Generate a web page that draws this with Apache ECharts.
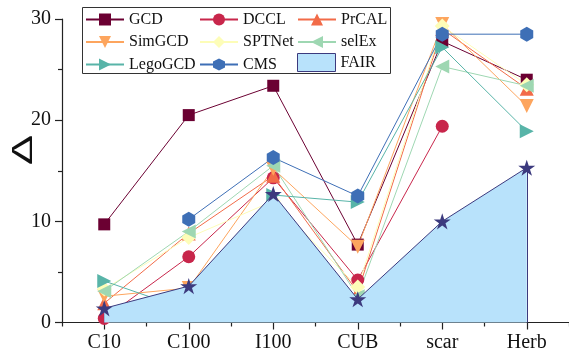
<!DOCTYPE html>
<html>
<head>
<meta charset="utf-8">
<script src="https://cdn.jsdelivr.net/npm/echarts@6/dist/echarts.min.js"></script>
<style>html,body{margin:0;padding:0;background:#fff}#c{width:569px;height:356px}</style>
</head>
<body>
<div id="c"></div>
<script>
const categories = ['C10', 'C100', 'I100', 'CUB', 'scar', 'Herb'];
const yTicks = [0, 10, 20, 30];
const GCD     = [9.7, 20.5, 23.4, 7.7, 27.8, 24.0];
const DCCL    = [0.4, 6.5, 14.3, 4.2, 19.4, null];
const PrCAL   = [1.9, 8.8, 14.5, 3.0, 29.0, 23.1];
const SimGCD  = [2.6, 3.4, 15.2, 7.5, 29.5, 21.4];
const SPTNet  = [3.3, 8.4, 12.0, 3.5, 29.3, 23.5];
const selEx   = [3.1, 9.0, 15.5, 2.6, 25.3, 23.4];
const LegoGCD = [4.1, 1.2, 12.6, 11.9, 27.2, 18.9];
const CMS     = [null, 10.2, 16.3, 12.5, 28.5, 28.5];
const FAIR    = [1.4, 3.6, 12.7, 2.3, 10.0, 15.3];

const HEX = 'path://M0,-1 L0.866,-0.5 L0.866,0.5 L0,1 L-0.866,0.5 L-0.866,-0.5Z';
const STAR = 'path://M0,-1 L0.2245,-0.309 L0.951,-0.309 L0.363,0.118 L0.588,0.809 L0,0.382 L-0.588,0.809 L-0.363,0.118 L-0.951,-0.309 L-0.2245,-0.309Z';
const SERIF = 'Liberation Serif';

function mk(name, data, color, symbol, size, rotate) {
  return {
    name: name, type: 'line', data: data,
    symbol: symbol, symbolSize: size, symbolRotate: rotate || 0, symbolKeepAspect: true,
    showSymbol: true, connectNulls: false,
    lineStyle: {color: color, width: 1},
    itemStyle: {color: color},
    emphasis: {disabled: true},
    z: 2
  };
}

const series = [
  mk('GCD', GCD, '#6B0032', 'rect', 12),
  mk('DCCL', DCCL, '#C8264B', 'circle', 13),
  mk('PrCAL', PrCAL, '#F26B48', 'triangle', 14),
  mk('SimGCD', SimGCD, '#FDA55E', 'triangle', 14, 180),
  mk('SPTNet', SPTNet, '#FDFDB8', 'diamond', 15),
  mk('selEx', selEx, '#9ED7B2', 'triangle', 14, 90),
  mk('LegoGCD', LegoGCD, '#58B4A8', 'triangle', 14, -90),
  mk('CMS', CMS, '#3E6FB6', HEX, 15),
  {
    name: 'FAIR', type: 'line', data: FAIR,
    symbol: STAR, symbolSize: 17, symbolKeepAspect: true,
    lineStyle: {color: '#3C3A7E', width: 1},
    itemStyle: {color: '#3C3A7E'},
    areaStyle: {color: '#B8E2FB', opacity: 1},
    emphasis: {disabled: true},
    z: 5,
    markLine: {
      silent: true, symbol: ['none', 'none'], label: {show: false},
      lineStyle: {color: '#3C3A7E', width: 1, type: 'solid'},
      data: [
        [{coord: [categories[0], 0]}, {coord: [categories[0], FAIR[0]]}],
        [{coord: [categories[5], 0]}, {coord: [categories[5], FAIR[5]]}]
      ]
    }
  }
];

function mkLegend(left, top, data, itemHeight) {
  return {
    orient: 'vertical', padding: 0, itemWidth: 38, itemHeight: itemHeight || 15, itemGap: 6.5,
    formatter: '{s|{name}}',
    textStyle: {
      fontFamily: SERIF, fontSize: 16, color: '#111',
      rich: {s: {fontFamily: SERIF, fontSize: 16, color: '#111'}}
    },
    selectedMode: false, left: left, top: top, data: data
  };
}

const option = {
  animation: false,
  textStyle: {fontFamily: SERIF},
  grid: {left: 62, right: 0, top: 19, bottom: 33.5, containLabel: false},
  legend: [
    mkLegend(85, 11.5, ['GCD', 'SimGCD', 'LegoGCD']),
    mkLegend(199, 11.5, ['DCCL', 'SPTNet', 'CMS']),
    mkLegend(297, 11.5, ['PrCAL', 'selEx']),
    mkLegend(297, 53, [{name: 'FAIR', icon: 'rect', itemStyle: {color: '#B8E2FB', borderColor: '#3C3A7E', borderWidth: 1}}], 18)
  ],
  xAxis: [
    {
      type: 'category', data: categories, boundaryGap: true, position: 'bottom',
      axisLine: {show: true, lineStyle: {color: '#222', width: 1.2}},
      axisTick: {show: true, alignWithLabel: true, length: 7, lineStyle: {color: '#222', width: 1.2}},
      axisLabel: {fontFamily: SERIF, fontSize: 20, color: '#111', margin: 10},
      splitLine: {show: false}
    },
    {
      type: 'category', data: categories, boundaryGap: true, position: 'bottom',
      axisLine: {show: false},
      axisTick: {show: true, length: 4, lineStyle: {color: '#222', width: 1.2}},
      axisLabel: {show: false},
      splitLine: {show: false}
    }
  ],
  yAxis: {
    type: 'value', min: yTicks[0], max: yTicks[yTicks.length - 1], interval: 10,
    axisLine: {show: true, lineStyle: {color: '#222', width: 1.2}},
    axisTick: {show: true, length: 7, lineStyle: {color: '#222', width: 1.2}},
    minorTick: {show: true, splitNumber: 2, length: 4, lineStyle: {color: '#222', width: 1.2}},
    axisLabel: {fontFamily: SERIF, fontSize: 20, color: '#111', margin: 11},
    splitLine: {show: false}
  },
  graphic: [
    {type: 'rect', left: 82, top: 7, z: 0, shape: {width: 308, height: 66},
      style: {fill: '#fff', stroke: '#333', lineWidth: 1}},
    {type: 'text', x: 24, y: 150, rotation: Math.PI / 2, scaleX: 1.5, z: 10,
      style: {text: 'Δ', font: '30px "Liberation Sans"', fill: '#111', align: 'center', verticalAlign: 'middle'}}
  ],
  series: series
};

const chart = echarts.init(document.getElementById('c'), null, {renderer: 'canvas'});
chart.setOption(option);
</script>
</body>
</html>
